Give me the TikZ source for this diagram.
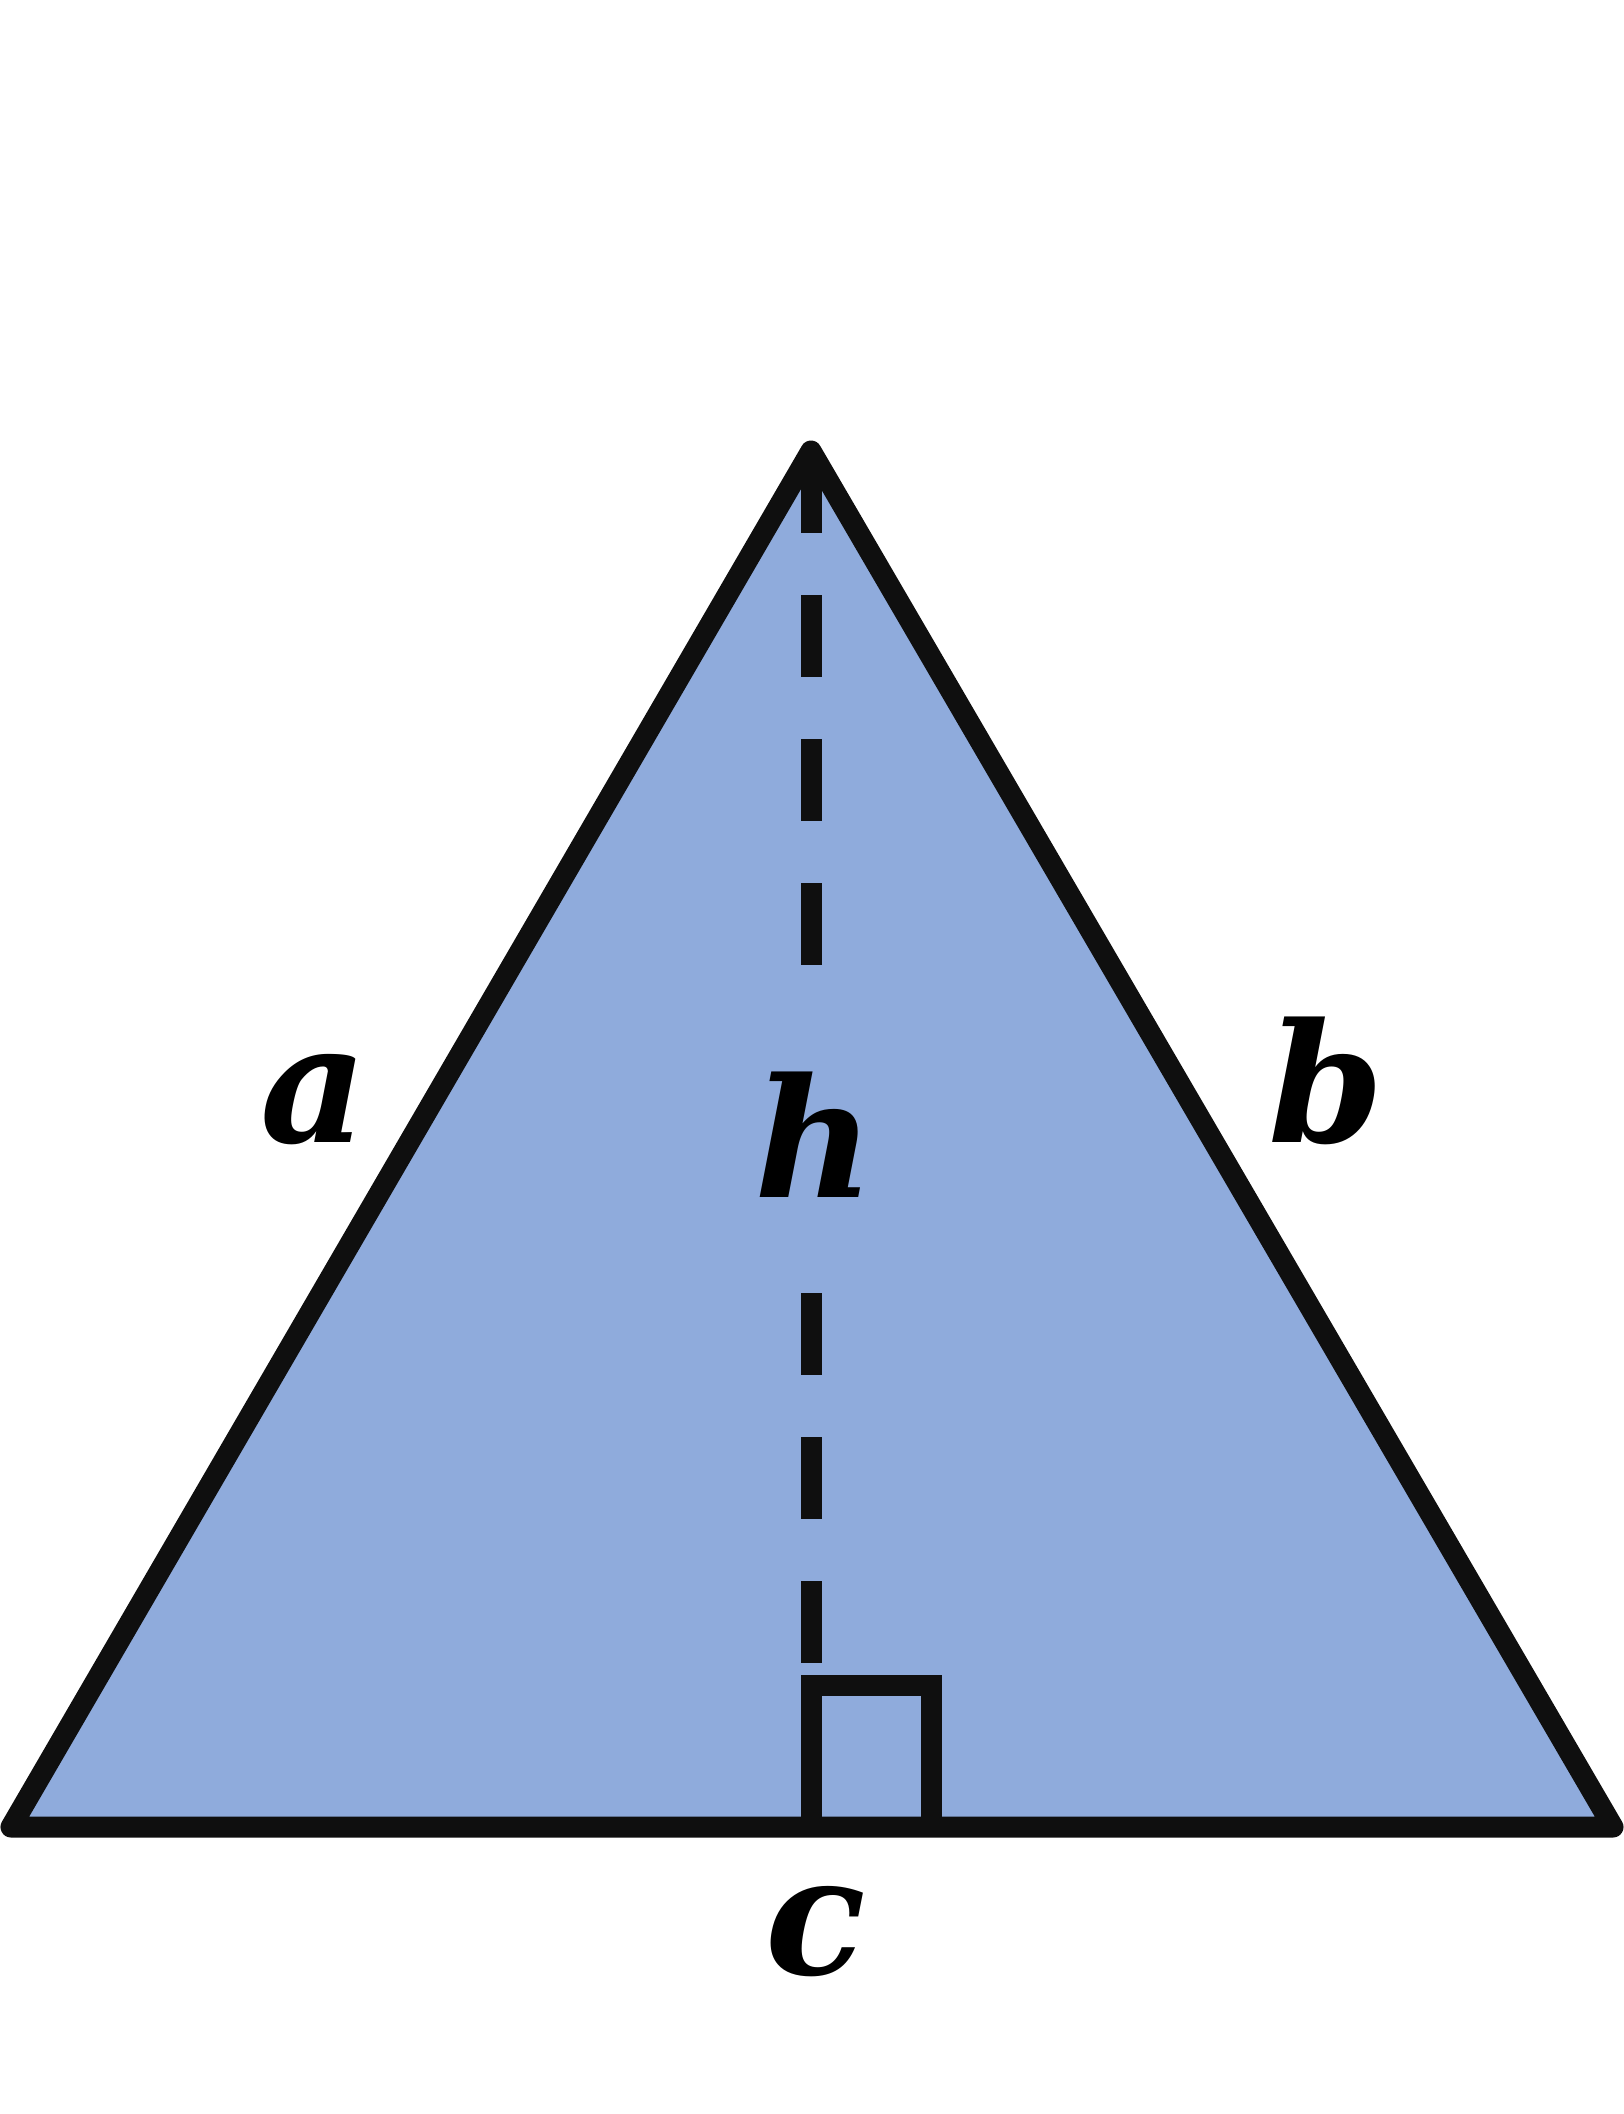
\documentclass[tikz,border=0pt]{standalone}
\usepackage{fontspec}
\newfontfamily\labelfont{DejaVu Serif}
\definecolor{triblue}{HTML}{8FABDC}
\definecolor{edge}{HTML}{0F0F0F}

\begin{document}
\begin{tikzpicture}[x=0.01cm, y=-0.01cm,
        side/.style={line width=0.21cm, color=edge, line join=round, line cap=round},
        height/.style={line width=0.21cm, color=edge, dash pattern=on 0.82cm off 0.62cm},
        lbl/.style={font={\labelfont\bfseries\itshape\fontsize{47}{47}\selectfont}, black}]
        \useasboundingbox (0,0) rectangle (1624,2114);

        \coordinate (top) at (811,451);
        \coordinate (left) at (11,1827);
        \coordinate (right) at (1613,1827);
        \coordinate (foot) at (811,1827);
        \coordinate (hup) at (811,1000);
        \coordinate (hdown) at (811,1293);
        \coordinate (sqa) at (811,1685);
        \coordinate (sqb) at (931,1685);
        \coordinate (sqc) at (931,1827);

        \fill[triblue] (top) -- (left) -- (right) -- cycle;

        \draw[height] (top) -- (hup);
        \draw[height] (hdown) -- (sqa);
        \draw[side, line cap=butt, line join=miter] (foot) -- (sqa) -- (sqb) -- (sqc);

        \draw[side] (top) -- (left) -- (right) -- cycle;

        \node[lbl] (a) at (314,1100) {a};


        \node[lbl] (b) at (1326,1081) {b};


        \node[lbl] (h) at (815,1135) {h};


        \node[lbl] (c) at (816,1932) {c};
    \end{tikzpicture}
\end{document}
